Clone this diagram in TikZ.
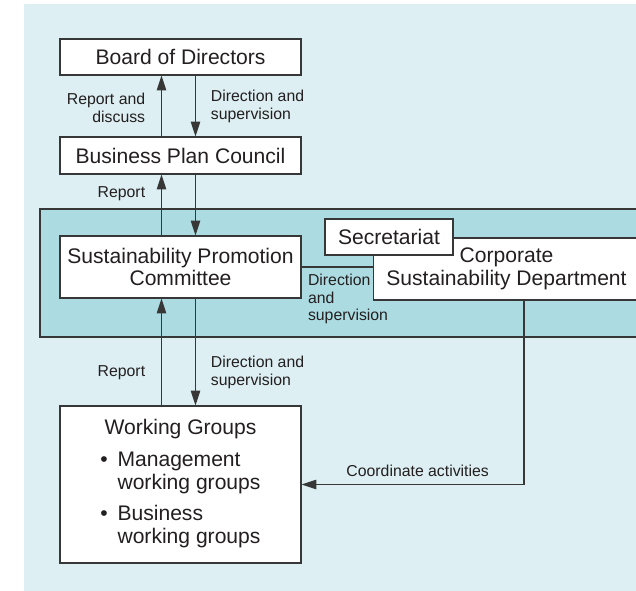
\documentclass[tikz,border=0pt]{standalone}
\usepackage{fontspec}
\setmainfont{Liberation Sans}
\usetikzlibrary{arrows.meta}
\definecolor{outerbg}{RGB}{221,239,242}
\definecolor{band}{RGB}{172,220,226}
\definecolor{ink}{RGB}{35,31,32}
\definecolor{rule}{RGB}{55,55,55}

\begin{document}
\begin{tikzpicture}[x=0.02cm,y=-0.02cm,
  box/.style={draw=rule, fill=white, line width=0.6pt, text=ink, inner sep=1pt,
    align=center, font=\fontsize{12}{13}\selectfont},
  lbl/.style={text=ink, inner sep=1pt, font=\fontsize{9}{10.2}\selectfont},
  arr/.style={draw=rule, line width=0.6pt, -{Triangle[length=8.5pt,width=5.4pt]}},
  ln/.style={draw=rule, line width=0.6pt}]
\useasboundingbox (0,0) rectangle (636,591);
\fill[outerbg] (24,4) rectangle (636,591);
\draw[rule, line width=0.6pt, fill=band] (40,209) rectangle (660,337);

% boxes
\node[box, minimum width=4.82cm, minimum height=0.72cm] (bod) at (180.5,57) {Board of Directors};
\node[box, minimum width=4.82cm, minimum height=0.74cm] (bpc) at (180.5,155.5) {Business Plan Council};
\node[box, minimum width=4.82cm, minimum height=1.24cm] (spc) at (180.5,267) {Sustainability Promotion\\Committee};
\node[box, minimum width=5.34cm, minimum height=1.24cm] (csd) at (506.5,269) {Corporate\\Sustainability Department};
\node[box, minimum width=2.56cm, minimum height=0.72cm] (sec) at (389,237) {Secretariat};
\node[box, minimum width=4.82cm, minimum height=3.14cm] (wg) at (180.5,484.5)
  {\begin{tabular}{@{}l@{\hspace{5.5pt}}l@{}}
   \multicolumn{2}{@{}c@{}}{Working Groups}\\[5pt]
   \textbullet & Management\\
               & working groups\\[5pt]
   \textbullet & Business\\
               & working groups
   \end{tabular}};
\coordinate (cd) at (524,300);

% connectors
\draw[arr] (bpc.north -| 161.5,0) -- node[lbl, left=8pt, pos=0.47, align=right] {Report and\\discuss} (bod.south -| 161.5,0);
\draw[arr] (bod.south -| 195.5,0) -- node[lbl, right=7.5pt, align=left] {Direction and\\supervision} (bpc.north -| 195.5,0);
\draw[arr] (spc.north -| 161.5,0) -- node[lbl, left=8pt, pos=0.68] {Report} (bpc.south -| 161.5,0);
\draw[arr] (bpc.south -| 195.5,0) -- (spc.north -| 195.5,0);
\draw[arr] (wg.north -| 161.5,0) -- node[lbl, left=8pt, pos=0.31] {Report} (spc.south -| 161.5,0);
\draw[arr] (spc.south -| 195.5,0) -- node[lbl, right=7.5pt, pos=0.69, align=left] {Direction and\\supervision} (wg.north -| 195.5,0);
\draw[ln] (spc.east) -- node[lbl, anchor=north west, pos=0.06, yshift=-2.5pt, align=left] {Direction\\and\\supervision} (csd.west |- spc.east);
\draw[arr] (cd) |- node[lbl, above=3pt, pos=0.739] {Coordinate activities} (wg.east);
\end{tikzpicture}
\end{document}
